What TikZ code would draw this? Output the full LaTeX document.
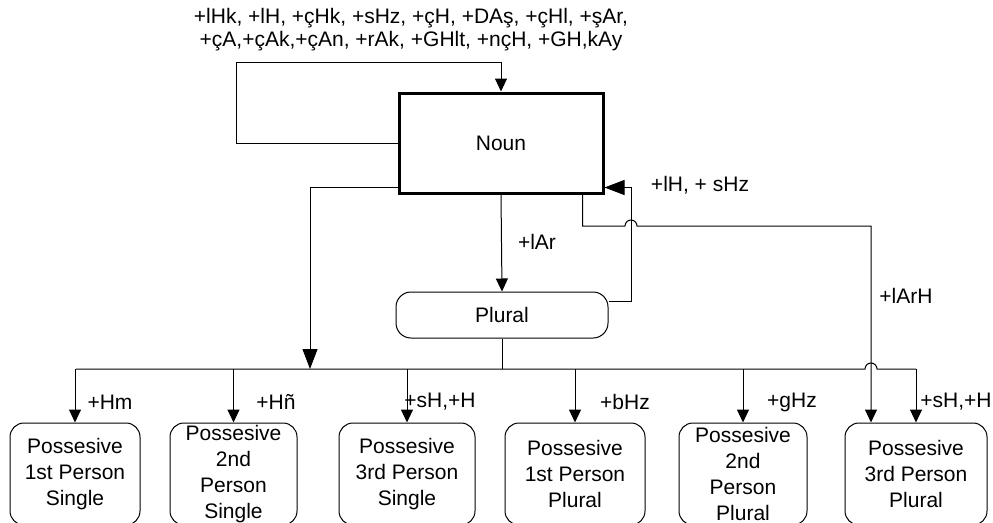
\documentclass[tikz,border=0pt]{standalone}
\usepackage{fontspec}
\setmainfont{Liberation Sans}
\usetikzlibrary{arrows.meta}

\begin{document}
\begin{tikzpicture}[x=1pt,y=-1pt,line width=1pt,
    font=\fontsize{21}{24}\selectfont,
    arr/.style={-{Triangle[length=13pt,width=12pt]}},
    bigarr/.style={-{Triangle[length=20pt,width=15pt]}},
    stembox/.style={draw,rectangle,line width=3pt,minimum width=204pt,minimum height=100pt},
    formbox/.style={draw,rectangle,rounded corners=14pt,align=center,inner sep=2pt,
      minimum height=102pt,font=\fontsize{21}{26}\selectfont}]
  \useasboundingbox (0,0) rectangle (993,522);

  % affixes that keep a noun a noun
  \node[align=center,font=\fontsize{21}{23}\selectfont] (affixes) at (411,30)
    {+lHk, +lH, +çHk, +sHz, +çH, +DAş, +çHl, +şAr,\\+çA,+çAk,+çAn, +rAk, +GHlt, +nçH, +GH,kAy};

  % main states
  \node[stembox] (noun) at (501,143) {Noun};
  \node[draw,rectangle,rounded corners=15pt,minimum width=212pt,minimum height=46pt]
    (plural) at (502,315) {Plural};

  % possessive forms
  \node[formbox,minimum width=130pt] (p1s) at (75,474) {Possesive\\1st Person\\Single};
  \node[formbox,minimum width=127pt] (p2s) at (233.5,474) {Possesive\\2nd\\Person\\Single};
  \node[formbox,minimum width=136pt] (p3s) at (407,474) {Possesive\\3rd Person\\Single};
  \node[formbox,minimum width=140pt] (p1p) at (575,474) {Possesive\\1st Person\\Plural};
  \node[formbox,minimum width=128pt] (p2p) at (743,474) {Possesive\\2nd\\Person\\Plural};
  \node[formbox,minimum width=142pt] (p3p) at (916,474) {Possesive\\3rd Person\\Plural};

  % helper points
  \coordinate (loopTop) at (236,62);
  \coordinate (busL) at (76,369);
  \coordinate (busR) at (916,369);
  \coordinate (busIn) at (310,369);
  \coordinate (backE) at (631,301);
  \coordinate (tapR) at (871,226);

  % noun loop
  \draw[arr] (noun.west) -| (loopTop) -| (noun.north);

  % noun -> plural
  \draw[arr] (noun.south) -- (plural.north);
  \node (lblLAr) at (537,242) {+lAr};

  % plural -> noun
  \draw[bigarr] ([yshift=14pt]plural.east) -- (backE) |- ([yshift=7pt]noun.south east);
  \node (lblBack) at (700,185) {+lH, + sHz};

  % noun -> bus
  \draw[bigarr] ([yshift=7pt]noun.south west) -| (busIn);

  % plural -> bus
  \draw (plural.south) -- (plural.south |- busL);
  \draw (busL) -- (865,369) arc[start angle=180,end angle=0,radius=6pt] -- (busR);
  \foreach \f in {p1s,p2s,p3s,p1p,p2p,p3p}
    \draw[arr] (\f.north |- busL) -- (\f.north);

  % noun -> 3rd person plural
  \draw[arr] ([xshift=-22pt]noun.south east) |- (625,226)
    arc[start angle=180,end angle=0,radius=6pt] -- (tapR) -- (tapR |- p3p.north);
  \node (lblLArH) at (906,296) {+lArH};

  % suffix labels
  \node (lblHm) at (110,402) {+Hm};
  \node (lblHn) at (276,402) {+Hñ};
  \node (lblSH1) at (440,402) {+sH,+H};
  \node (lblBHz) at (625,402) {+bHz};
  \node (lblGHz) at (792,402) {+gHz};
  \node (lblSH2) at (956,402) {+sH,+H};
\end{tikzpicture}
\end{document}
